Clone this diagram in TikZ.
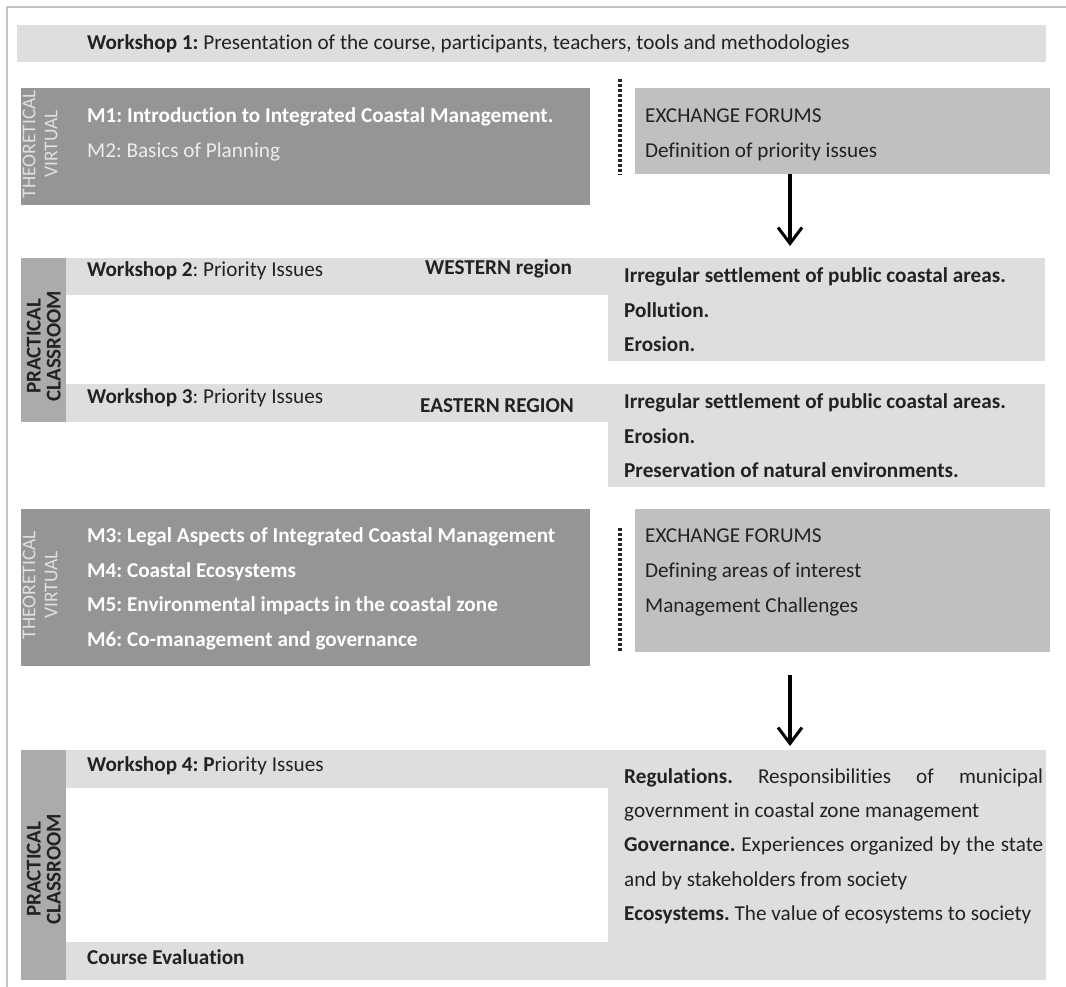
\documentclass[tikz,border=0pt]{standalone}
\usepackage{fontspec}
\setmainfont{Carlito}[Ligatures={NoCommon}]
\usetikzlibrary{arrows.meta}
\definecolor{barc}{HTML}{DEDEDE}
\definecolor{darkc}{HTML}{959595}
\definecolor{exc}{HTML}{C0C0C0}
\definecolor{sidec}{HTML}{ABABAB}
\definecolor{txt}{HTML}{222222}
\definecolor{frm}{HTML}{C4C4C4}
\definecolor{tvlab}{HTML}{E0E0E0}
\tikzset{
  box/.style={draw=none, anchor=north west, inner sep=0pt, minimum width=#1},
  lt/.style={anchor=west, inner sep=0pt, text height=16pt, text depth=3pt, text=txt, font=\fontsize{21.2}{25}\selectfont},
  wt/.style={lt, text=white},
  sidelab/.style={rotate=90, align=center, inner sep=0pt},
  tvlabel/.style={sidelab, text=tvlab, font=\fontsize{19.5}{22}\selectfont},
  pclabel/.style={sidelab, text=txt, font=\fontsize{21}{20}\selectfont\bfseries},
  dots/.style={line width=3.5pt, dash pattern=on 3pt off 2pt, black!85},
  arr/.style={line width=3.2pt, -{Straight Barb[length=16pt, width=24pt, line width=3pt]}}
}
\begin{document}
\frenchspacing
\begin{tikzpicture}[x=1pt, y=-1pt]
\useasboundingbox (0,0) rectangle (1066,987);
\fill[white] (0,0) rectangle (1066,987);
\draw[frm, line width=1.5pt] (7,987) -- (7,7) -- (1066,7);
% Workshop 1
\node[box=1029pt, minimum height=37pt, fill=barc] (w1) at (17,25) {};
\node[lt] (w1t) at (87,43.5) {\textbf{Workshop 1:} Presentation of the course, participants, teachers, tools and methodologies};
% Theoretical virtual 1
\node[box=569pt, minimum height=117pt, fill=darkc] (tv1) at (21,88) {};
\node[tvlabel] (tv1l) at (40,144) {THEORETICAL\\VIRTUAL};
\node[wt] (m1) at (87,116) {\textbf{M1: Introduction to Integrated Coastal Management.}};
\node[wt, text=white!93!black] (m2) at (87,151) {M2: Basics of Planning};
\coordinate (d1a) at (620,79);
\coordinate (d1b) at (620,175);
\draw[dots] (d1a) -- (d1b);
\node[box=415pt, minimum height=86pt, fill=exc] (ex1) at (635,88) {};
\node[lt] (ex1a) at (645,116) {EXCHANGE FORUMS};
\node[lt] (ex1b) at (645,151) {Definition of priority issues};
\coordinate (ar1) at (790,246);
\draw[arr] (ex1.south -| ar1) -- (ar1);
% Practical classroom 1
\node[box=45pt, minimum height=164pt, fill=sidec] (pc1) at (21,258) {};
\node[pclabel] (pc1l) at ([yshift=-6pt]pc1.center) {PRACTICAL\\CLASSROOM};
\node[box=542pt, minimum height=37pt, fill=barc] (w2) at (66,258) {};
\node[box=437pt, minimum height=103pt, fill=barc] (west) at (608,258) {};
\node[lt] (w2t) at (87,270) {\textbf{Workshop 2}: Priority Issues};
\node[lt] (w2r) at (425,268) {\textbf{WESTERN region}};
\node[lt] (we1) at (624,276) {\textbf{Irregular settlement of public coastal areas.}};
\node[lt] (we2) at (624,311) {\textbf{Pollution.}};
\node[lt] (we3) at (624,345) {\textbf{Erosion.}};
\node[box=542pt, minimum height=38pt, fill=barc] (w3) at (66,384) {};
\node[box=437pt, minimum height=103pt, fill=barc] (east) at (608,384) {};
\node[lt] (w3t) at (87,397) {\textbf{Workshop 3}: Priority Issues};
\node[lt] (w3r) at (420,406) {\textbf{EASTERN REGION}};
\node[lt] (ea1) at (624,402) {\textbf{Irregular settlement of public coastal areas.}};
\node[lt] (ea2) at (624,437) {\textbf{Erosion.}};
\node[lt] (ea3) at (624,471) {\textbf{Preservation of natural environments.}};
% Theoretical virtual 2
\node[box=569pt, minimum height=157pt, fill=darkc] (tv2) at (21,509) {};
\node[tvlabel] (tv2l) at (40,585) {THEORETICAL\\VIRTUAL};
\node[wt] (m3) at (87,536) {\textbf{M3: Legal Aspects of Integrated Coastal Management}};
\node[wt] (m4) at (87,571) {\textbf{M4: Coastal Ecosystems}};
\node[wt] (m5) at (87,605) {\textbf{M5: Environmental impacts in the coastal zone}};
\node[wt] (m6) at (87,640) {\textbf{M6: Co-management and governance}};
\coordinate (d2a) at (620,528);
\coordinate (d2b) at (620,652);
\draw[dots] (d2a) -- (d2b);
\node[box=415pt, minimum height=143pt, fill=exc] (ex2) at (635,509) {};
\node[lt] (ex2a) at (645,536) {EXCHANGE FORUMS};
\node[lt] (ex2b) at (645,571) {Defining areas of interest};
\node[lt] (ex2c) at (645,606) {Management Challenges};
\coordinate (ar2t) at (790,675);
\coordinate (ar2) at (790,746);
\draw[arr] (ar2t) -- (ar2);
% Practical classroom 2
\node[box=45pt, minimum height=230pt, fill=sidec] (pc2) at (21,750) {};
\node[pclabel] (pc2l) at ([yshift=-4pt]pc2.center) {PRACTICAL\\CLASSROOM};
\node[box=980pt, minimum height=38pt, fill=barc] (w4) at (66,750) {};
\node[box=438pt, minimum height=192pt, fill=barc] (w4r) at (608,750) {};
\node[box=980pt, minimum height=38pt, fill=barc] (ce) at (66,942) {};
\node[lt] (w4t) at (87,765) {\textbf{Workshop 4: P}riority Issues};
\node[lt] (r1) at (624,777) {\makebox[419pt][s]{\textbf{Regulations.} Responsibilities of municipal}};
\node[lt] (r2) at (624,811) {government in coastal zone management};
\node[lt] (r3) at (624,845) {\makebox[419pt][s]{\textbf{Governance.} Experiences organized by the state}};
\node[lt] (r4) at (624,880) {and by stakeholders from society};
\node[lt] (r5) at (624,914) {\textbf{Ecosystems.} The value of ecosystems to society};
\node[lt] (cet) at (87,958) {\textbf{Course Evaluation}};
\end{tikzpicture}
\end{document}
